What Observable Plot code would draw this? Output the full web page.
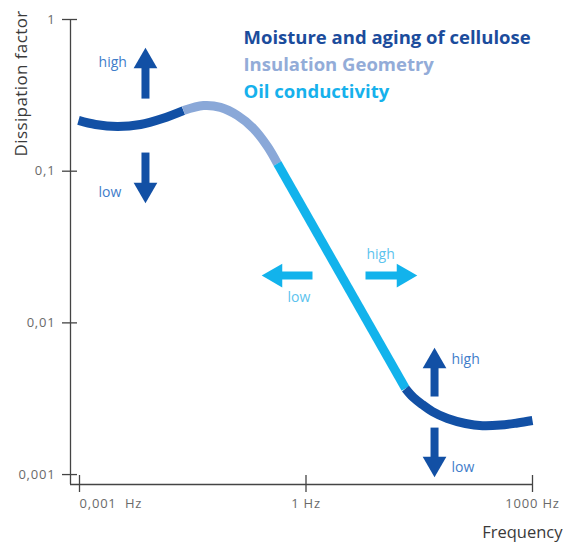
<!DOCTYPE html>
<html><head><meta charset="utf-8">
<script src="https://cdn.jsdelivr.net/npm/d3@7"></script>
<script src="https://cdn.jsdelivr.net/npm/@observablehq/plot@0.6"></script>
<style>
body{margin:0;background:#fff;}
.spaced text{letter-spacing:0.8px;}
.ylab text{letter-spacing:0.4px;}
</style>
</head><body><div id="chart"></div>
<script>
// Axis ticks
const xTicks = [0.001, 1, 1000];
const xTickLabels = ["0,001  Hz", "1 Hz", "1000 Hz"];
const yTicks = [1, 0.1, 0.01, 0.001];
const yTickLabels = ["1", "0,1", "0,01", "0,001"];
const xDomain = [0.00076, 1000];
const yDomain = [0.00086, 1];

// Curve segments (frequency in Hz, dissipation factor)
const moistureLowFreq = [0.00097, 0.00163, 0.00318, 0.00643, 0.01256, 0.0238];
const moistureLowDF   = [0.216, 0.203, 0.197, 0.203, 0.2225, 0.251];
const geometryFreq = [0.0238, 0.0439, 0.0738, 0.124, 0.2018, 0.309, 0.419];
const geometryDF   = [0.251, 0.271, 0.2636, 0.233, 0.191, 0.1454, 0.1123];
const oilFreq = [0.419, 20.8];
const oilDF   = [0.1123, 0.00369];
const moistureHighFreq = [20.8, 26.5, 34.9, 47.4, 74.8, 129.6, 217.6, 377, 632, 1000];
const moistureHighDF   = [0.00369, 0.00322, 0.00289, 0.0026, 0.00234, 0.00217, 0.0021, 0.00212, 0.00219, 0.00227];

// Legend
const legendLabels = ["Moisture and aging of cellulose", "Insulation Geometry", "Oil conductivity"];
const legendColors = ["#1b4c9c", "#93acd8", "#16b1ec"];
const lineColors = ["#1250a5", "#8aa8d8", "#12b3ec"];

// Influence arrows: tail -> head (frequency, dissipation factor)
const arrowFrom = [[0.00748, 0.301], [0.00748, 0.1327], [1.219, 0.0205], [6.14, 0.0205], [50.4, 0.00327], [50.4, 0.00204]];
const arrowTo   = [[0.00748, 0.529], [0.00748, 0.0756], [0.3933, 0.0205], [19.62, 0.0205], [50.4, 0.00557], [50.4, 0.00118]];
const arrowDir  = ["up", "down", "left", "right", "up", "down"];
const arrowGroup = ["Moisture and aging of cellulose", "Moisture and aging of cellulose", "Oil conductivity", "Oil conductivity", "Moisture and aging of cellulose", "Moisture and aging of cellulose"];

// Arrow labels
const arrowLabelText = ["high", "low", "low", "high", "high", "low"];
const arrowLabelPos  = [[0.00179, 0.52], [0.00179, 0.0723], [0.569, 0.01476], [6.32, 0.0282], [84.5, 0.00573], [84.5, 0.001117]];
const arrowLabelGroup = ["dark", "dark", "cyan", "cyan", "dark", "dark"];

const segs = [
  {name: "m1", series: legendLabels[0], f: moistureLowFreq, d: moistureLowDF},
  {name: "g", series: legendLabels[1], f: geometryFreq, d: geometryDF},
  {name: "o", series: legendLabels[2], f: oilFreq, d: oilDF},
  {name: "m2", series: legendLabels[0], f: moistureHighFreq, d: moistureHighDF}
];
const points = segs.flatMap(s => s.f.map((f, i) => ({f, df: s.d[i], seg: s.name, series: s.series})));
const arrows = arrowFrom.map((a, i) => ({x1: a[0], y1: a[1], x2: arrowTo[i][0], y2: arrowTo[i][1], dir: arrowDir[i], series: arrowGroup[i]}));
const rot = {up: 0, down: 180, left: -90, right: 90};
const labels = arrowLabelText.map((t, i) => ({t, f: arrowLabelPos[i][0], df: arrowLabelPos[i][1], g: arrowLabelGroup[i]}));

const chart = Plot.plot({
  width: 565, height: 544,
  marginLeft: 70, marginRight: 33, marginTop: 19, marginBottom: 60,
  style: {fontFamily: "'Open Sans', sans-serif", background: "#fff"},
  x: {type: "log", domain: xDomain, label: null},
  y: {type: "log", domain: yDomain, label: null},
  color: {domain: legendLabels, range: lineColors},
  marks: [
    Plot.ruleX([xDomain[0]], {stroke: "#444", strokeWidth: 1.3}),
    Plot.ruleY([yDomain[0]], {stroke: "#444", strokeWidth: 1.3}),
    Plot.axisY(yTicks, {tickFormat: d => yTickLabels[yTicks.indexOf(d)], tickSize: 15, dx: 7, tickPadding: 7,
      stroke: "#444", strokeWidth: 1.3, fill: "#6a6a6a", fontSize: 13, label: null, className: "spaced"}),
    Plot.axisX(xTicks, {tickFormat: () => "", tickSize: 17, dy: -9, stroke: "#444", strokeWidth: 1.3, label: null}),
    Plot.text([xTicks[0]], {x: d => d, text: () => xTickLabels[0], frameAnchor: "bottom", lineAnchor: "middle", dy: 19, textAnchor: "start", fill: "#6a6a6a", fontSize: 13, className: "spaced"}),
    Plot.text(xTicks.slice(1), {x: d => d, text: d => xTickLabels[xTicks.indexOf(d)], frameAnchor: "bottom", lineAnchor: "middle", dy: 19, fill: "#6a6a6a", fontSize: 13, className: "spaced"}),
    Plot.text(["Dissipation factor"], {frameAnchor: "top-left", lineAnchor: "middle", dx: -49, dy: 137, rotate: -90, textAnchor: "start", fontSize: 17, fill: "#3a3a3a", className: "ylab"}),
    Plot.text(["Frequency"], {frameAnchor: "bottom-right", lineAnchor: "middle", dx: 30, dy: 48, textAnchor: "end", fontSize: 16.5, fill: "#3a3a3a"}),
    Plot.line(points, {x: "f", y: "df", z: "seg", stroke: "series", strokeWidth: 9, curve: "catmull-rom", strokeLinecap: "butt"}),
    Plot.link(arrows, {x1: "x1", y1: "y1", x2: "x2", y2: "y2", stroke: "series", strokeWidth: 8}),
    Plot.dot(arrows, {x: "x2", y: "y2", symbol: "triangle", r: 8.8, fill: "series", stroke: null, rotate: d => rot[d.dir]}),
    Plot.text(labels.filter(d => d.g === "dark"), {x: "f", y: "df", text: "t", textAnchor: "start", fontSize: 14, fill: "#3f7dca"}),
    Plot.text(labels.filter(d => d.g === "cyan"), {x: "f", y: "df", text: "t", textAnchor: "start", fontSize: 14, fill: "#5cc3ee"}),
    ...legendLabels.map((l, i) => Plot.text([l], {frameAnchor: "top-left", lineAnchor: "middle", dx: 173, dy: 19 + i * 27, textAnchor: "start", fontSize: 18.5, fontWeight: "bold", fill: legendColors[i]}))
  ]
});
document.getElementById("chart").appendChild(chart);
</script></body></html>
